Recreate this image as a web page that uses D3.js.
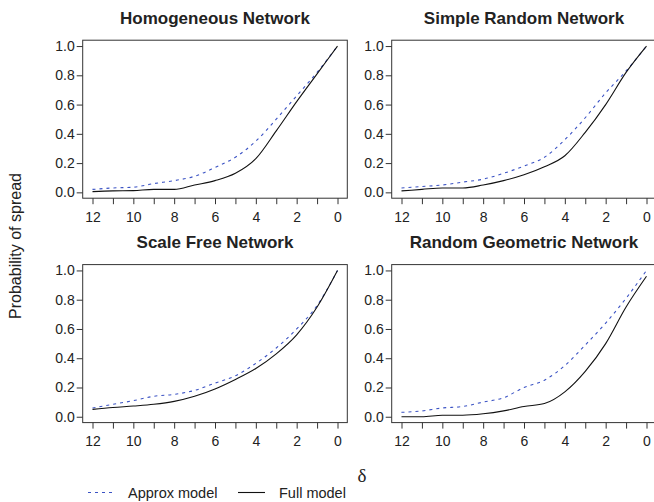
<!DOCTYPE html>
<html>
<head>
<meta charset="utf-8">
<script src="https://cdn.jsdelivr.net/npm/d3@7"></script>
<style>
  html, body { margin: 0; padding: 0; background: #fff; }
  svg { display: block; font-family: "Liberation Sans", Arial, Helvetica, sans-serif; }
</style>
</head>
<body>
<svg id="chart" width="654" height="502"></svg>
<script>
// Probability of spread against the threshold delta, four network types
const deltas = [12, 11, 10, 9, 8, 7, 6, 5, 4, 3, 2, 1, 0];
const panelTitles = ["Homogeneous Network", "Simple Random Network", "Scale Free Network", "Random Geometric Network"];

const homogeneousFull   = [0.005, 0.01, 0.012, 0.02, 0.02, 0.05, 0.08, 0.13, 0.23, 0.42, 0.62, 0.81, 1.0];
const homogeneousApprox = [0.02, 0.03, 0.035, 0.06, 0.08, 0.11, 0.17, 0.24, 0.35, 0.5, 0.66, 0.82, 1.0];
const simpleFull        = [0.01, 0.02, 0.03, 0.03, 0.05, 0.08, 0.12, 0.175, 0.25, 0.41, 0.6, 0.82, 1.0];
const simpleApprox      = [0.03, 0.04, 0.05, 0.07, 0.09, 0.13, 0.18, 0.24, 0.36, 0.51, 0.68, 0.83, 1.0];
const scaleFreeFull     = [0.05, 0.063, 0.073, 0.085, 0.105, 0.14, 0.19, 0.255, 0.33, 0.43, 0.56, 0.75, 1.0];
const scaleFreeApprox   = [0.06, 0.085, 0.11, 0.14, 0.153, 0.18, 0.23, 0.28, 0.365, 0.47, 0.6, 0.76, 1.0];
const geometricFull     = [0.0, 0.0, 0.01, 0.01, 0.02, 0.04, 0.07, 0.09, 0.17, 0.31, 0.5, 0.75, 0.96];
const geometricApprox   = [0.03, 0.04, 0.06, 0.07, 0.1, 0.13, 0.2, 0.25, 0.35, 0.49, 0.64, 0.81, 1.0];

const xTickValues = [12, 11, 10, 9, 8, 7, 6, 5, 4, 3, 2, 1, 0];
const xTickLabels = [12, 10, 8, 6, 4, 2, 0];
const yTickValues = [0, 0.2, 0.4, 0.6, 0.8, 1.0];
const legendLabels = ["Approx model", "Full model"];

const panels = [
  { title: panelTitles[0], full: homogeneousFull, approx: homogeneousApprox, col: 0, row: 0 },
  { title: panelTitles[1], full: simpleFull,      approx: simpleApprox,      col: 1, row: 0 },
  { title: panelTitles[2], full: scaleFreeFull,   approx: scaleFreeApprox,   col: 0, row: 1 },
  { title: panelTitles[3], full: geometricFull,   approx: geometricApprox,   col: 1, row: 1 }
];

const colX = [[82.7, 347.3], [391.7, 656.3]];
const rowY = [[40.2, 198.2], [264.6, 422.6]];
const approxColor = "#3a52c4";
const ink = "#222";

const svg = d3.select("#chart");

panels.forEach(p => {
  const [x0, x1] = colX[p.col];
  const [y0, y1] = rowY[p.row];
  // R-style 4% padding around the data range
  const x = d3.scaleLinear().domain([12.48, -0.48]).range([x0, x1]);
  const y = d3.scaleLinear().domain([-0.04, 1.04]).range([y1, y0]);
  const g = svg.append("g");

  const clipId = "clip" + p.col + p.row;
  g.append("clipPath").attr("id", clipId)
    .append("rect").attr("x", x0).attr("y", y0).attr("width", x1 - x0).attr("height", y1 - y0);

  const line = d3.line()
    .x((d, i) => x(deltas[i]))
    .y(d => y(d))
    .curve(d3.curveMonotoneX);

  const plot = g.append("g").attr("clip-path", `url(#${clipId})`);
  plot.append("path").datum(p.approx)
    .attr("d", line).attr("fill", "none")
    .attr("stroke", approxColor).attr("stroke-width", 1.1)
    .attr("stroke-dasharray", "3,4");
  plot.append("path").datum(p.full)
    .attr("d", line).attr("fill", "none")
    .attr("stroke", "#111").attr("stroke-width", 1.1);

  // frame
  g.append("rect").attr("x", x0).attr("y", y0).attr("width", x1 - x0).attr("height", y1 - y0)
    .attr("fill", "none").attr("stroke", "#333").attr("stroke-width", 1);

  // x axis (ticks every unit, labels every two)
  const xAxis = d3.axisBottom(x).tickValues(xTickValues).tickSize(6).tickSizeOuter(0)
    .tickFormat(d => xTickLabels.includes(d) ? d : "");
  const gx = g.append("g").attr("transform", `translate(0,${y1})`).call(xAxis);
  gx.select(".domain").remove();
  gx.selectAll(".tick line").attr("stroke", "#333");
  gx.selectAll(".tick text").attr("fill", ink).attr("font-size", 14).attr("y", 13.5).attr("dy", "0.71em");

  // y axis
  const yAxis = d3.axisLeft(y).tickValues(yTickValues).tickSize(6).tickSizeOuter(0)
    .tickFormat(d3.format(".1f"));
  const gy = g.append("g").attr("transform", `translate(${x0},0)`).call(yAxis);
  gy.select(".domain").remove();
  gy.selectAll(".tick line").attr("stroke", "#333");
  gy.selectAll(".tick text").attr("fill", ink).attr("font-size", 14).attr("x", -8);

  // panel title
  g.append("text")
    .attr("x", (x0 + x1) / 2).attr("y", y0 - 22)
    .attr("text-anchor", "middle").attr("dominant-baseline", "central")
    .attr("font-weight", "bold").attr("font-size", 17).attr("fill", ink)
    .text(p.title);
});

// shared axis titles
svg.append("text")
  .attr("transform", "translate(15,246) rotate(-90)")
  .attr("text-anchor", "middle").attr("dominant-baseline", "central")
  .attr("font-size", 16).attr("fill", ink)
  .text("Probability of spread");

svg.append("text")
  .attr("x", 362).attr("y", 475)
  .attr("text-anchor", "middle").attr("dominant-baseline", "central")
  .attr("font-family", "'Liberation Serif', 'DejaVu Serif', serif")
  .attr("font-size", 19).attr("fill", ink)
  .text("δ");

// legend
const legend = svg.append("g").attr("transform", "translate(0,492.5)");
legend.append("line").attr("x1", 88).attr("x2", 114).attr("y1", 0).attr("y2", 0)
  .attr("stroke", approxColor).attr("stroke-width", 1.1).attr("stroke-dasharray", "3,4");
legend.append("text").attr("x", 128).attr("y", 0).attr("dominant-baseline", "central")
  .attr("font-size", 14.5).attr("fill", ink).text(legendLabels[0]);
legend.append("line").attr("x1", 238).attr("x2", 265).attr("y1", 0).attr("y2", 0)
  .attr("stroke", "#111").attr("stroke-width", 1.1);
legend.append("text").attr("x", 279).attr("y", 0).attr("dominant-baseline", "central")
  .attr("font-size", 14.5).attr("fill", ink).text(legendLabels[1]);
</script>
</body>
</html>
